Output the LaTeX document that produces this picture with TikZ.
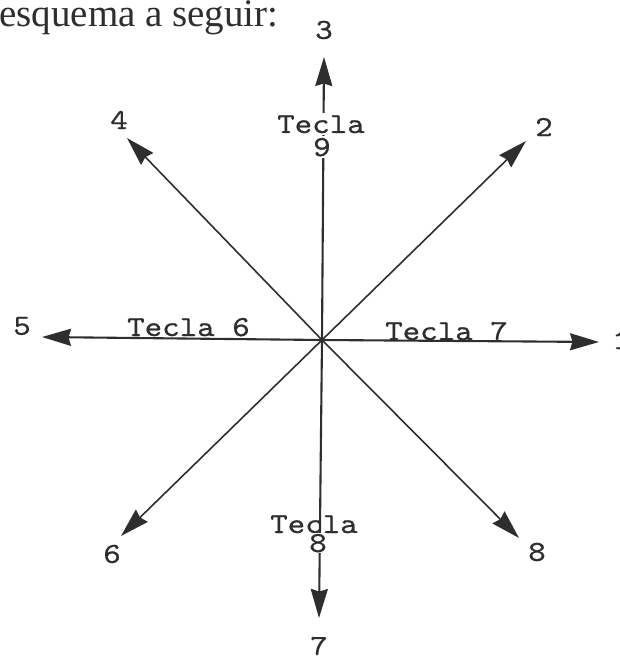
\documentclass[tikz,border=0pt]{standalone}
\usepackage{fontspec}
\setmainfont{Liberation Serif}
\newfontfamily\tyfont[Extension=.otf,FakeStretch=1.15,FakeBold=0.6]{lmmono10-regular}
\usetikzlibrary{arrows.meta}
\definecolor{ink}{HTML}{2E2E2E}
\begin{document}
\begin{tikzpicture}[x=1pt,y=-1pt,
  ln/.style={draw=ink, line width=1.6pt, -{Stealth[length=29pt,width=17pt,inset=2.5pt]}},
  lnb/.style={ln, line width=2.1pt},
  lbl/.style={font=\tyfont\fontsize{29}{29}\selectfont, text=ink, inner sep=0pt},
]
\useasboundingbox (0,0) rectangle (619,660);
\node[anchor=base west, font=\fontsize{39}{39}\selectfont, text=ink, inner sep=0pt] (hd) at (-1,27) {esquema a seguir:};

\coordinate (c) at (322,340);
\coordinate (t1) at (599,342);
\coordinate (t2) at (526,141);
\coordinate (t3) at (324,57);
\coordinate (t4) at (127,138);
\coordinate (t5) at (42,337);
\coordinate (t6) at (121,536);
\coordinate (t7) at (319,618);
\coordinate (t8) at (519,538);

\draw[lnb] (c) -- (t1);
\draw[ln] (c) -- (t2);
\draw[lnb] (c) -- (t3);
\draw[ln] (c) -- (t4);
\draw[lnb] (c) -- (t5);
\draw[ln] (c) -- (t6);
\draw[lnb] (c) -- (t7);
\draw[ln] (c) -- (t8);

\node[lbl] (n1) at (621,340) {1};
\node[lbl] (n2) at (544,127) {2};
\node[lbl] (n3) at (324,30) {3};
\node[lbl] (n4) at (119,120) {4};
\node[lbl] (n5) at (22,326) {5};
\node[lbl] (n6) at (112,554) {6};
\node[lbl] (n7) at (319,646) {7};
\node[lbl] (n8) at (537,552) {8};

\node[lbl, fill=white, inner ysep=2pt, anchor=base] (k9a) at (321,133) {Tecla};
\node[lbl, fill=white, inner ysep=2pt, anchor=base] (k9b) at (322,156) {9};
\node[lbl, anchor=base] (k8a) at (314,533) {Tecla};
\node[lbl, fill=white, inner ysep=1pt, anchor=base] (k8b) at (318,552) {8};
\node[lbl, anchor=base west] (k6) at (127,336) {Tecla 6};
\node[lbl, anchor=base west] (k7) at (385,340) {Tecla 7};
\end{tikzpicture}
\end{document}
